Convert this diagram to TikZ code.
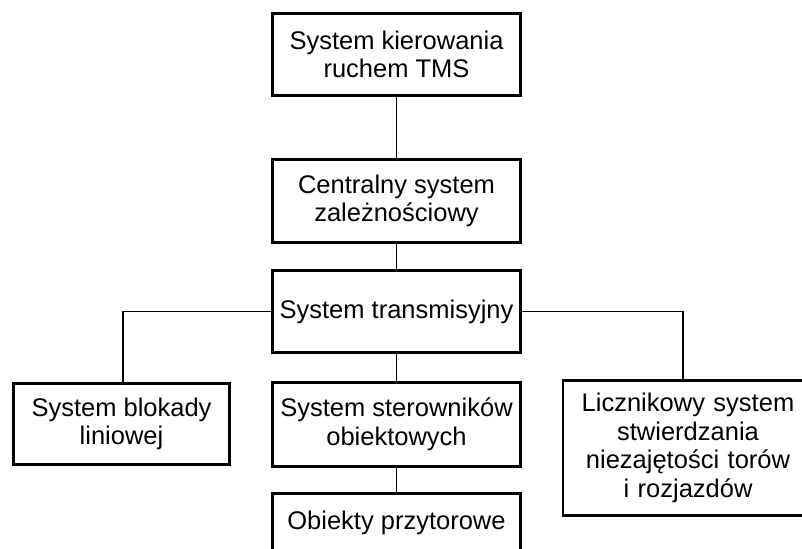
\documentclass[tikz,border=0pt]{standalone}
\usepackage{fontspec}
\setmainfont{Liberation Sans}
\begin{document}
\begin{tikzpicture}[x=1bp,y=-1bp,
  box/.style={draw=black, line width=2.8bp, fill=white, inner sep=0pt,
    align=center, minimum width=248bp,
    font=\fontsize{25.5bp}{28.5bp}\selectfont},
  link/.style={draw=black, line width=1.2bp}]
\useasboundingbox (0,0) rectangle (802,549);
\fill[white] (0,0) rectangle (802,549);

% hierarchy boxes
\node[box, minimum height=82bp] (tms) at (396.5,54.5) {System kierowania\\ruchem TMS};
\node[box, minimum height=83bp] (csz) at (396.5,201) {Centralny system\\zależnościowy};
\node[box, minimum height=82bp] (trans) at (396.5,311.5) {System transmisyjny};
\node[box, minimum width=216bp, minimum height=81bp] (blok) at (121.5,424) {System blokady\\liniowej};
\node[box, minimum height=84bp] (ster) at (396.5,424.5) {System sterowników\\obiektowych};
% the right-hand box runs past the right margin
\node[box, minimum width=250bp, minimum height=135bp, text width=250bp,
  inner sep=0pt] (licz) at (688,448) {Licznikowy system\\stwierdzania\\niezajętości torów\\i rozjazdów};
\node[box, minimum height=58bp] (obj) at (396.5,522.5) {Obiekty przytorowe};

% connections
\coordinate (lj) at (123,382);
\coordinate (rj) at (683,379);
\draw[link] (tms.south) -- (csz.north);
\draw[link] (csz.south) -- (trans.north);
\draw[link] (trans.south) -- (ster.north);
\draw[link] (ster.south) -- (obj.north);
\draw[link] (trans.west) -| (lj);
\draw[link] (trans.east) -| (rj);
\end{tikzpicture}
\end{document}
